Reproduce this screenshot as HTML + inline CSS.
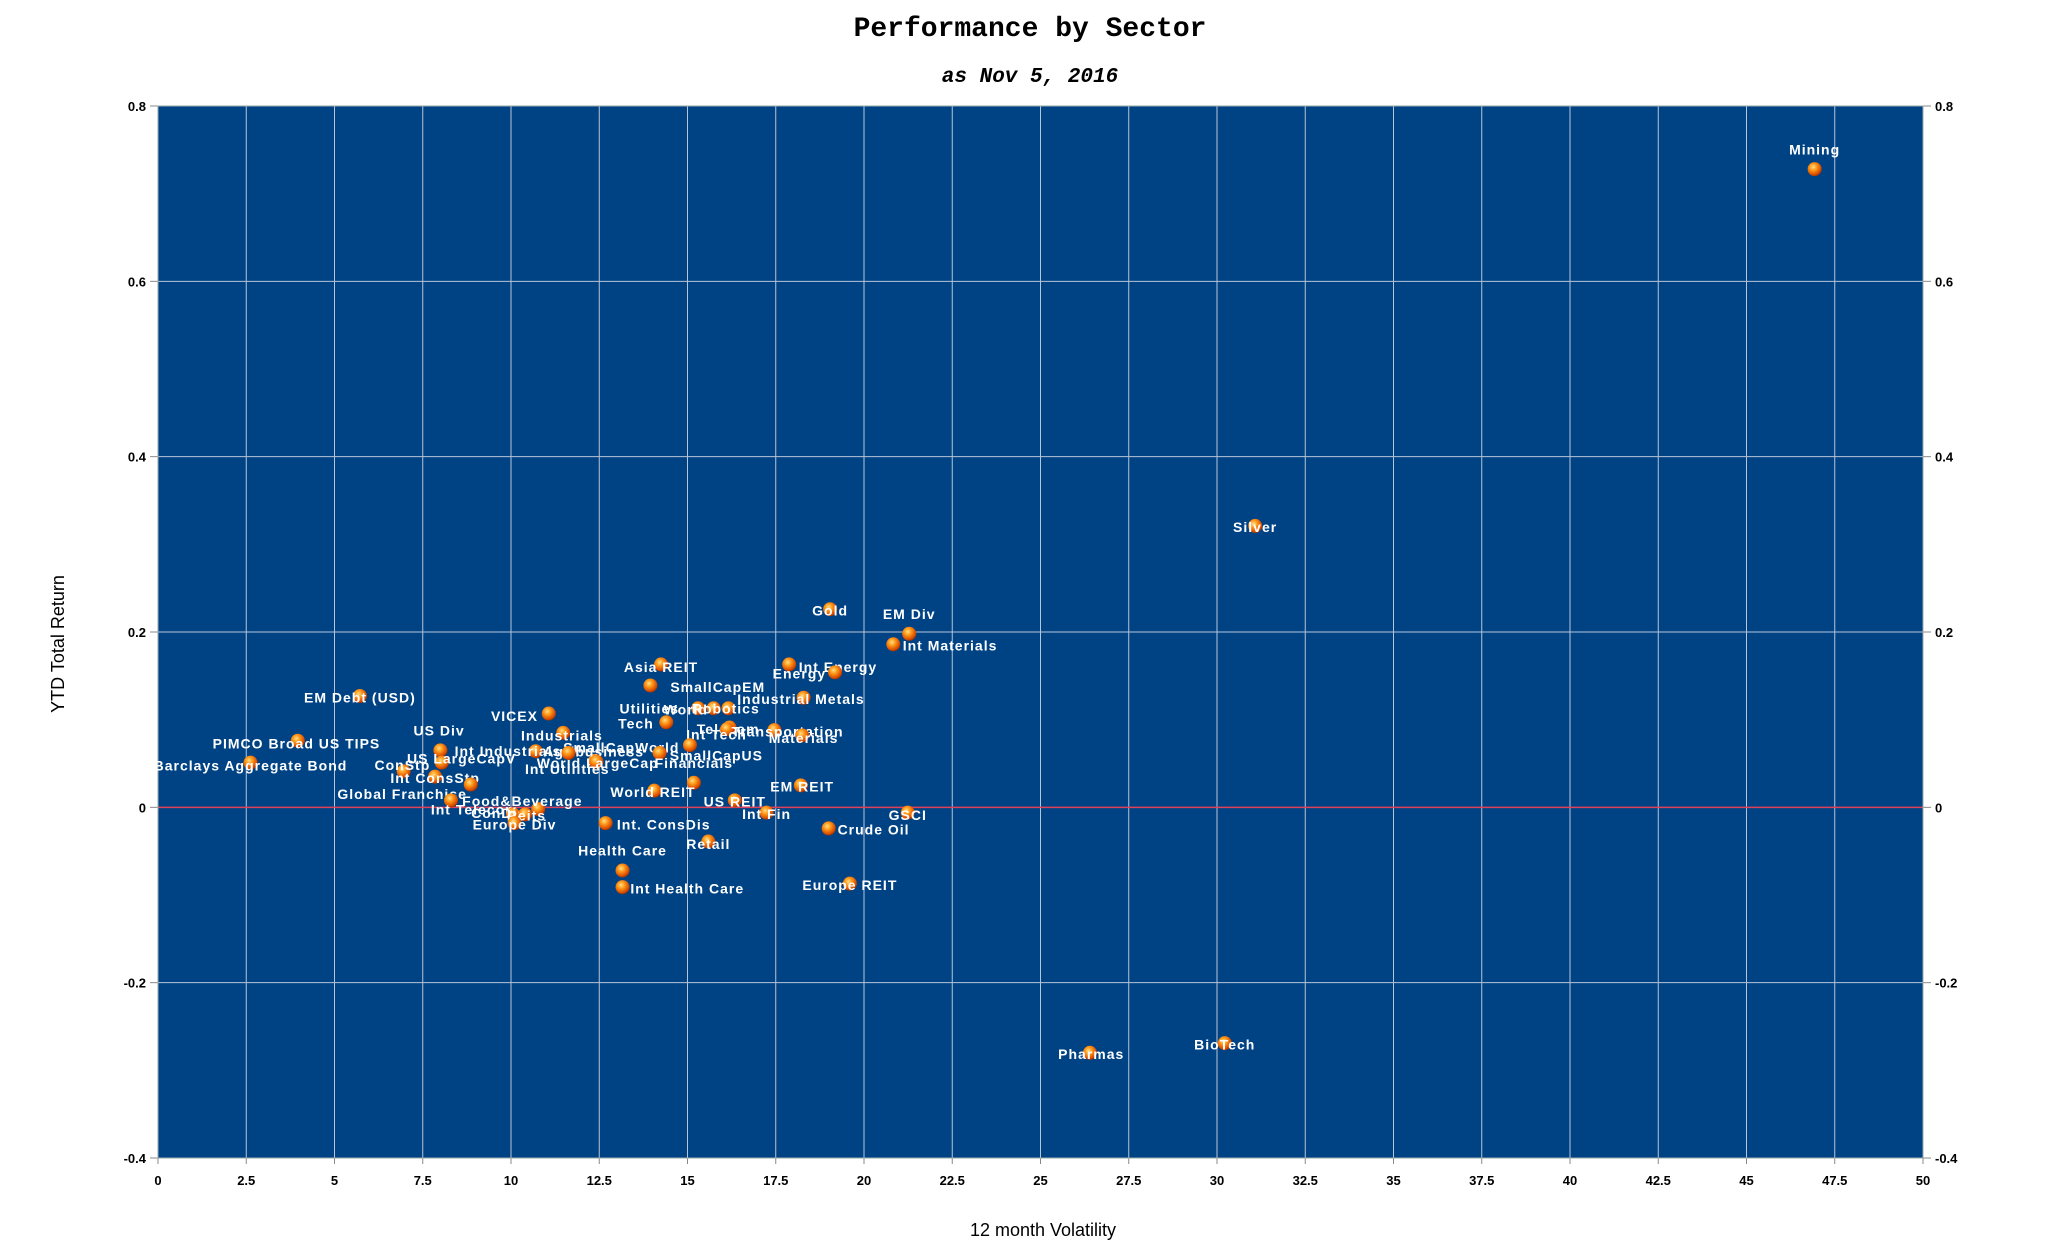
<!DOCTYPE html>
<html><head><meta charset="utf-8"><style>
html,body{margin:0;padding:0;background:#fff;}
svg{display:block;}
</style></head><body>
<svg id="chart" width="2046" height="1243" xmlns="http://www.w3.org/2000/svg">
<defs>
<radialGradient id="ball" cx="0.4" cy="0.35" r="0.7">
<stop offset="0" stop-color="#ffe08a"/><stop offset="0.35" stop-color="#ff9a1a"/><stop offset="0.8" stop-color="#d84a00"/><stop offset="1" stop-color="#8a2a00"/>
</radialGradient>
</defs>
<rect width="2046" height="1243" fill="#fff"/>
<text x="1030" y="36" text-anchor="middle" font-family="Liberation Mono, monospace" font-weight="bold" font-size="28">Performance by Sector</text>
<text x="1030" y="82" text-anchor="middle" font-family="Liberation Mono, monospace" font-weight="bold" font-style="italic" font-size="21">as Nov 5, 2016</text>
<rect x="158" y="106" width="1765" height="1052" fill="#004385"/>
<g id="grid"></g>
<g id="axes"></g>
<g id="points"></g>
<text transform="translate(64,644) rotate(-90)" text-anchor="middle" font-family="Liberation Sans, sans-serif" font-size="18">YTD Total Return</text>
<text x="1043" y="1236" text-anchor="middle" font-family="Liberation Sans, sans-serif" font-size="18">12 month Volatility</text>
</svg>
<script>
const names = ["Mining","Silver","Gold","EM Div","Int Materials","Int Energy","Energy","Asia REIT","SmallCapEM","Industrial Metals","Utilities","World","Robotics","VICEX","Tech","Telecom","Int Tech","Transportation","Materials","Industrials","US Div","SmallCapWorld","Int Industrials","Agribusiness","SmallCapUS","US LargeCapV","ConStp","World LargeCap","Financials","Int Utilities","Barclays Aggregate Bond","PIMCO Broad US TIPS","EM Debt (USD)","Int ConsStp","Global Franchise","Food&Beverage","Int Telecom","ConDis","Reits","Europe Div","World REIT","US REIT","EM REIT","Int Fin","GSCI","Crude Oil","Int. ConsDis","Retail","Health Care","Int Health Care","Europe REIT","BioTech","Pharmas"];
const volatility = [46.93,31.08,19.04,21.28,20.83,17.88,19.18,14.25,13.95,18.29,15.30,15.74,16.16,11.07,14.40,16.19,16.12,17.46,18.25,11.48,8.00,15.07,10.70,12.38,14.21,8.04,6.96,12.42,15.18,11.63,2.62,3.96,5.72,7.85,8.86,10.77,8.30,10.06,10.40,10.10,14.06,16.34,18.21,17.24,21.24,19.00,12.68,15.59,13.16,13.16,19.60,30.22,26.40];
const ytdReturn = [0.728,0.321,0.226,0.198,0.186,0.163,0.154,0.163,0.139,0.125,0.113,0.113,0.113,0.107,0.097,0.091,0.089,0.088,0.082,0.085,0.065,0.071,0.064,0.053,0.062,0.051,0.041,0.052,0.028,0.062,0.051,0.076,0.127,0.035,0.026,-0.002,0.008,-0.008,-0.008,-0.018,0.019,0.008,0.025,-0.006,-0.006,-0.024,-0.018,-0.039,-0.072,-0.091,-0.087,-0.269,-0.280];
const labelOffsetX = [0,0,0,0,43,37,-27,0,51,-2,-37,-21,-2,-26,-23,-1,-8,10,1,-1,-1,-52,-21,-1,43,15,-1,1,0,-1,0,-1,0,0,-52,-12,18,-11,1,0,-1,0,1,0,0,34,44,0,0,49,0,0,1];
const labelOffsetY = [-15,1,1,-15,1,2,1,2,1,1,0,1,0,2,1,1,4,1,2,2,-15,2,0,-7,2,-3,-5,1,-15,12,2,2,1,1,7,-6,7,-1,1,1,1,1,1,1,2,1,1,2,-15,1,1,1,1];
const xTicks = [0,2.5,5,7.5,10,12.5,15,17.5,20,22.5,25,27.5,30,32.5,35,37.5,40,42.5,45,47.5,50];
const yTicks = [-0.4,-0.2,0,0.2,0.4,0.6,0.8];
const yTickLabels = ["-0.4","-0.2","0","0.2","0.4","0.6","0.8"];

const L=158,R=1923,T=106,B=1158, S=1.32;
const xs = v => L + (v-0)/(50-0)*(R-L);
const ys = v => B - (v-(-0.4))/(0.8-(-0.4))*(B-T);
const NS="http://www.w3.org/2000/svg";
function mk(tag, attrs, parent){const e=document.createElementNS(NS,tag);for(const k in attrs)e.setAttribute(k,attrs[k]);parent.appendChild(e);return e;}
const grid=document.getElementById('grid'), axes=document.getElementById('axes'), pts=document.getElementById('points');
xTicks.forEach(t=>{
  const x=xs(t);
  const gl=mk('line',{x1:x,x2:x,y1:T,y2:B,stroke:'#b8c4d8','stroke-width':1},grid);
  
  
  mk('line',{x1:x,x2:x,y1:B,y2:B+6,stroke:'#888','stroke-width':1},axes);
  const tl=mk('text',{x:x,y:B+27,'text-anchor':'middle','font-family':'Liberation Sans Narrow, Liberation Sans, sans-serif','font-weight':'bold','font-size':13},axes);
  tl.textContent=String(t);
  
  
});
yTicks.forEach((t,i)=>{
  const y=ys(t);
  const gl=mk('line',{x1:L,x2:R,y1:y,y2:y,stroke:t===0?'#e0405a':'#b8c4d8','stroke-width':t===0?1.5:1},grid);
  
  
  mk('line',{x1:L-8,x2:L,y1:y,y2:y,stroke:'#888'},axes);
  mk('line',{x1:R,x2:R+8,y1:y,y2:y,stroke:'#888'},axes);
  const a=mk('text',{x:L-12,y:y+5,'text-anchor':'end','font-family':'Liberation Sans Narrow, Liberation Sans, sans-serif','font-weight':'bold','font-size':13},axes);
  a.textContent=yTickLabels[i];
  
  
  const b=mk('text',{x:R+12,y:y+5,'text-anchor':'start','font-family':'Liberation Sans Narrow, Liberation Sans, sans-serif','font-weight':'bold','font-size':13},axes);
  b.textContent=yTickLabels[i];
  
  
});
mk('rect',{x:L,y:T,width:R-L,height:B-T,fill:'none',stroke:'#9aa','stroke-width':1},axes);
names.forEach((n,i)=>{
  const cx=xs(volatility[i]), cy=ys(ytdReturn[i]);
  const c=mk('circle',{cx:cx,cy:cy,r:7,fill:'url(#ball)'},pts);
  
  
  const t=mk('text',{x:cx+labelOffsetX[i]*S,y:cy+labelOffsetY[i]*S+5,'text-anchor':'middle',fill:'#fff','font-family':'Liberation Sans Narrow, Liberation Sans, sans-serif','font-weight':'bold','font-size':14,'letter-spacing':'1'},pts);
  t.textContent=n;
  
  
});
</script>
</body></html>
